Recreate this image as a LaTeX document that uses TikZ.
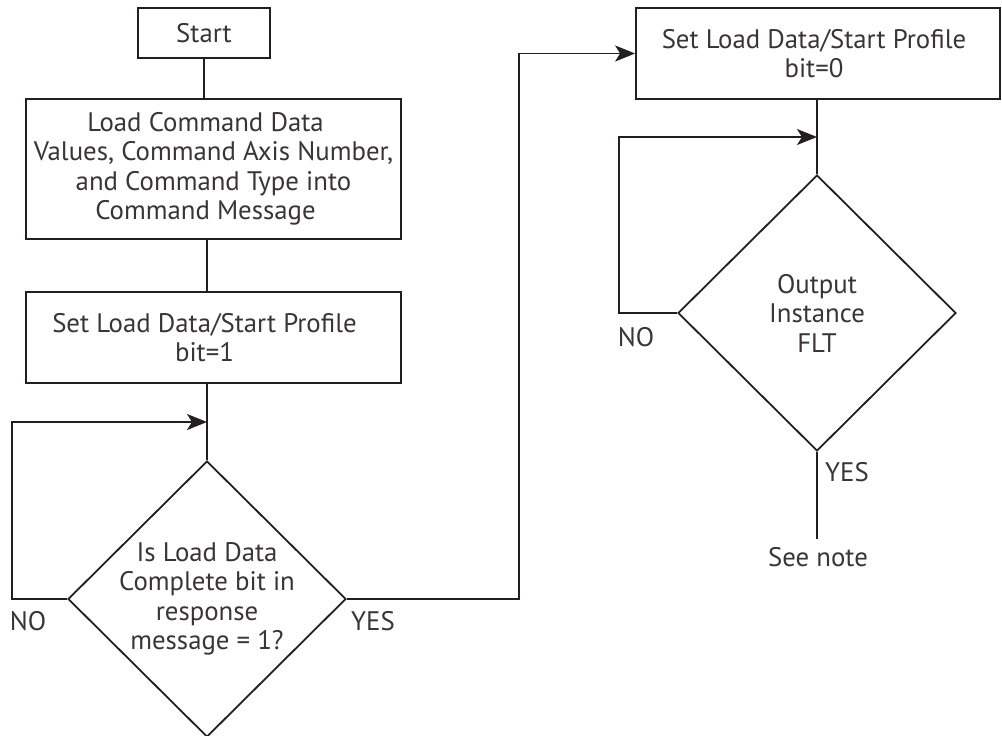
\documentclass[tikz,border=0pt]{standalone}
\usepackage{fontspec}
\setmainfont{PT Sans}
\usetikzlibrary{arrows.meta,shapes.geometric}
\definecolor{ink}{HTML}{231F20}
% Text etwas nach links ruecken
\newcommand{\nachlinks}[2]{#2\hspace*{#1}}
\begin{document}
\begin{tikzpicture}[x=1pt,y=-1pt,
    every node/.style={font=\fontsize{26.8}{29.5}\selectfont, text=ink!90},
    kasten/.style={draw=ink, line width=1.8pt, inner sep=0pt, align=center},
    raute/.style={draw=ink, line width=1.8pt, diamond, inner sep=-20pt, align=center,
      minimum width=278pt, minimum height=276pt},
    linie/.style={draw=ink, line width=1.8pt},
    pfeil/.style={linie, -{Stealth[length=20pt,width=16pt,inset=5pt]}}]
    \useasboundingbox (0,0) rectangle (1002,736);

    % Linke Spalte
    \node[kasten, minimum width=132pt, minimum height=50pt] (start) at (204,33) {Start};
    \node[kasten, minimum width=375pt, minimum height=140pt] (befehl) at (213.5,169)
      {\nachlinks{16pt}{Load Command Data}\\\nachlinks{16pt}{Values, Command Axis Number,}\\
       \nachlinks{16pt}{and Command Type into}\\\nachlinks{16pt}{Command Message}};
    \node[kasten, minimum width=375pt, minimum height=91pt] (setzen1) at (213.5,337.5)
      {\nachlinks{18pt}{Set Load Data/Start Profile}\\\nachlinks{18pt}{bit=1}};
    \node[raute] (frage1) at (207,599)
      {Is Load Data\\Complete bit in\\response\\message = 1?};

    % Rechte Spalte
    \node[kasten, minimum width=364pt, minimum height=91pt] (setzen0) at (818,53.5)
      {\nachlinks{8pt}{Set Load Data/Start Profile}\\\nachlinks{8pt}{bit=0}};
    \node[raute] (frage2) at (817,313) {Output\\Instance\\FLT};

    % Verbindungen links
    \draw[linie] (start.south) -- (start.south |- befehl.north);
    \draw[linie] (befehl.south -| frage1.north) -- (setzen1.north -| frage1.north);
    \draw[linie] (setzen1.south -| frage1.north) -- (frage1.north);
    \coordinate (m1) at (207,422);
    \draw[pfeil] (frage1.west) -- ++(-55,0) |- (m1);
    \node (nein1) at (28,621) {NO};

    % Verbindung zur rechten Spalte
    \draw[pfeil] (frage1.east) -- ++(172,0) |- (setzen0.west);
    \node (ja1) at (373,621) {YES};

    % Verbindungen rechts
    \draw[linie] (setzen0.south -| frage2.north) -- (frage2.north);
    \coordinate (m2) at (817,137);
    \draw[pfeil] (frage2.west) -- ++(-58,0) |- (m2);
    \node (nein2) at (636,337) {NO};
    \draw[linie] (frage2.south) -- ++(0,87) coordinate (ende);
    \node (ja2) at (847,472) {YES};
    \node (notiz) at (818,557) {See note};
  \end{tikzpicture}
\end{document}
